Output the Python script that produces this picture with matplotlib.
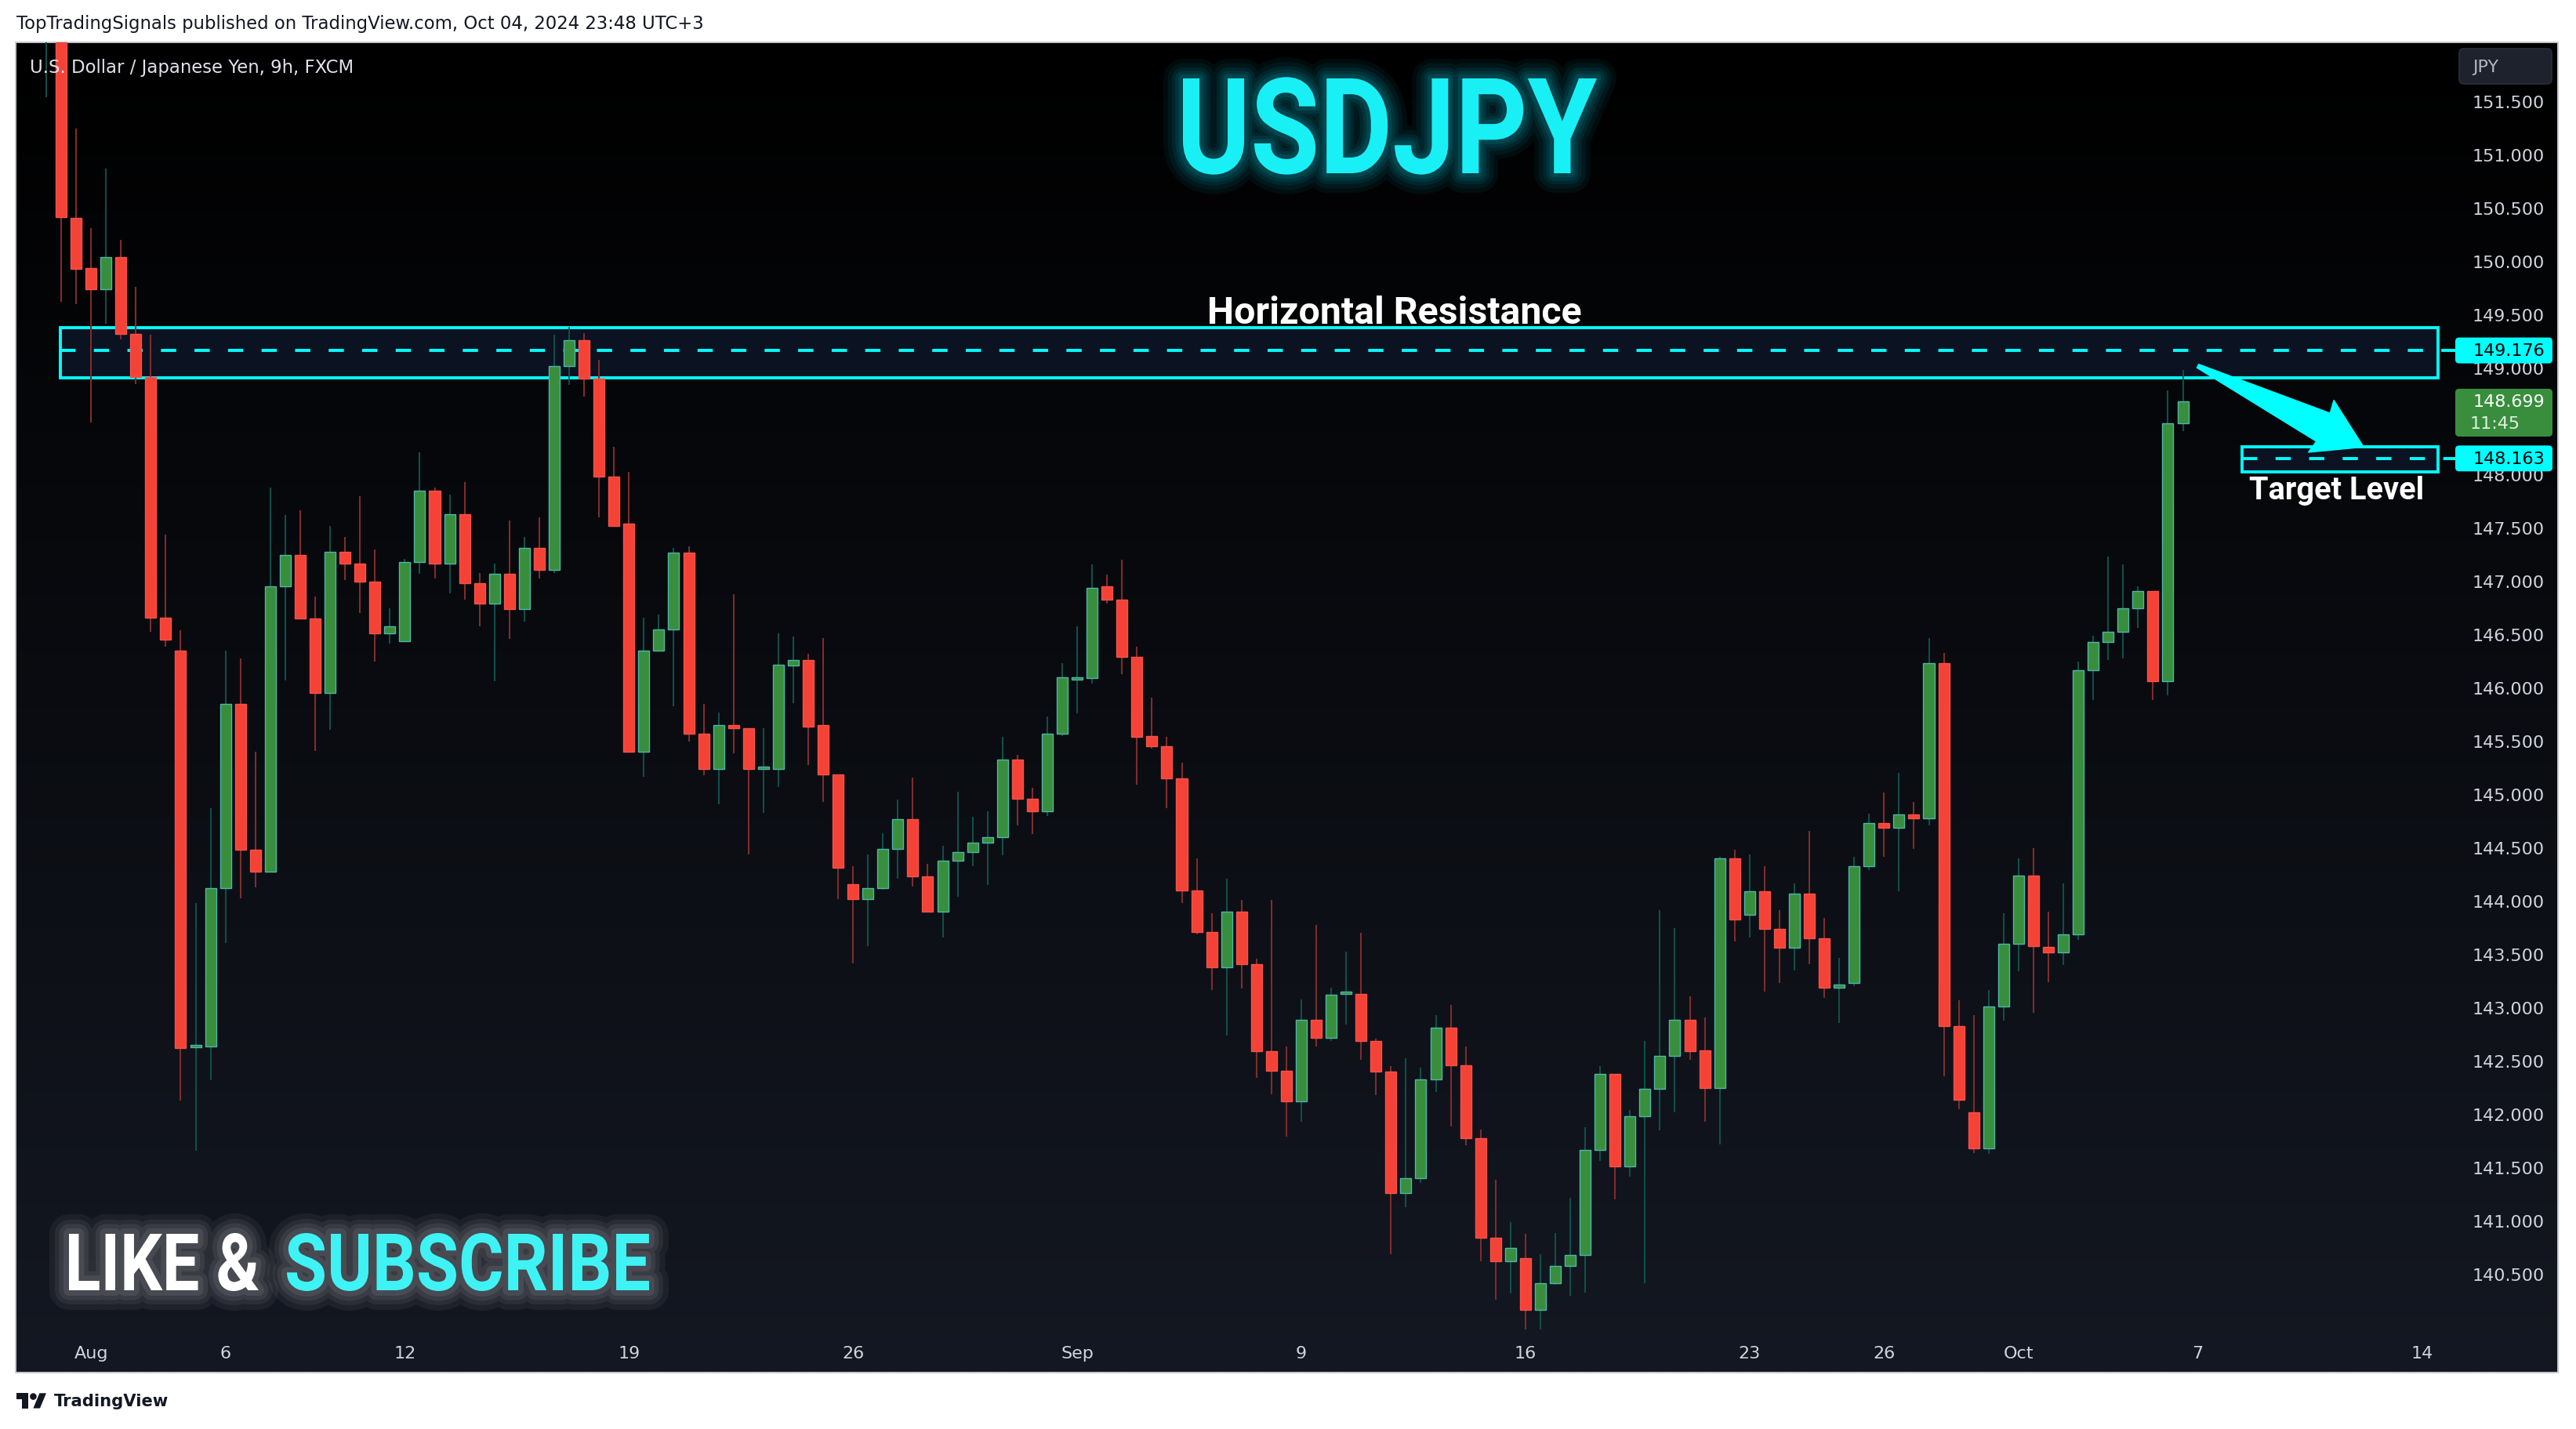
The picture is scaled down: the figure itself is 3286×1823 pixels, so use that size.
import matplotlib
matplotlib.use("Agg")
import matplotlib.pyplot as plt
import numpy as np
from matplotlib.patches import Rectangle, FancyBboxPatch, PathPatch, Polygon, Circle
from matplotlib.textpath import TextPath
from matplotlib.font_manager import FontProperties
from matplotlib.transforms import Affine2D, blended_transform_factory

# USDJPY 9h candles, first one sits at index -1
opens = [152.20, 152.45, 150.42, 149.95, 149.75, 150.05, 149.33, 148.93, 146.67, 146.36,
         142.64, 142.65, 144.13, 145.86, 144.49, 144.29, 146.96, 147.26, 146.66, 145.96,
         147.29, 147.18, 147.01, 146.52, 146.45, 147.19, 147.86, 147.18, 147.64, 146.99,
         146.80, 147.08, 146.75, 147.32, 147.12, 149.03, 149.27, 148.91, 147.99, 147.55,
         145.41, 146.36, 146.56, 147.28, 145.58, 145.25, 145.66, 145.63, 145.25, 145.25,
         146.22, 146.27, 145.66, 145.20, 144.17, 144.03, 144.13, 144.50, 144.78, 144.24,
         143.91, 144.39, 144.47, 144.56, 144.61, 145.34, 144.97, 144.85, 145.58, 146.09,
         146.10, 146.96, 146.84, 146.30, 145.56, 145.46, 145.16, 144.11, 143.72, 143.39,
         143.91, 143.42, 142.60, 142.42, 142.13, 142.90, 142.73, 143.14, 143.14, 142.70,
         142.41, 141.27, 141.41, 142.34, 142.82, 142.47, 141.79, 140.85, 140.63, 140.66,
         140.18, 140.43, 140.59, 140.69, 141.68, 142.39, 141.52, 141.99, 142.25, 142.56,
         142.90, 142.61, 142.26, 144.41, 143.88, 144.10, 143.75, 143.57, 144.08, 143.66,
         143.20, 143.24, 144.34, 144.74, 144.70, 144.82, 144.79, 146.24, 142.84, 142.03,
         141.69, 143.02, 143.61, 144.25, 143.58, 143.53, 143.70, 146.18, 146.44, 146.54,
         146.76, 146.92, 146.07, 148.49]
highs = [152.65, 152.55, 151.26, 150.32, 150.88, 150.21, 149.77, 149.32, 147.45, 146.55,
         143.99, 144.88, 146.36, 146.29, 145.41, 147.89, 147.63, 147.68, 146.87, 147.53,
         147.43, 147.81, 147.31, 146.76, 147.22, 148.22, 147.89, 147.82, 147.94, 147.09,
         147.18, 147.58, 147.43, 147.61, 149.32, 149.40, 149.34, 149.09, 148.27, 148.04,
         146.67, 146.70, 147.32, 147.34, 145.86, 145.78, 146.89, 145.63, 145.63, 146.52,
         146.49, 146.33, 146.48, 145.20, 144.34, 144.45, 144.65, 144.96, 145.17, 144.36,
         144.53, 145.04, 144.80, 144.85, 145.55, 145.38, 145.07, 145.74, 146.24, 146.59,
         147.17, 147.07, 147.21, 146.40, 145.92, 145.55, 145.31, 144.41, 143.90, 144.22,
         144.02, 143.47, 144.02, 142.65, 143.09, 143.79, 143.20, 143.54, 143.71, 142.72,
         142.46, 142.54, 142.45, 142.94, 143.04, 142.65, 141.87, 141.40, 141.00, 140.89,
         140.70, 140.90, 141.23, 141.89, 142.46, 142.39, 142.05, 142.70, 143.93, 143.76,
         143.12, 142.92, 144.43, 144.49, 144.45, 144.34, 143.93, 144.18, 144.67, 143.85,
         143.48, 144.43, 144.83, 145.03, 145.21, 144.94, 146.48, 146.34, 143.08, 142.94,
         143.18, 143.90, 144.41, 144.51, 143.91, 144.18, 146.26, 146.50, 147.24, 147.17,
         146.96, 146.92, 148.80, 148.99]
lows = [151.55, 149.63, 149.61, 148.50, 149.43, 149.28, 148.86, 146.54, 146.40, 142.14,
        141.67, 142.33, 143.62, 144.04, 144.14, 144.29, 146.08, 146.66, 145.42, 145.62,
        147.02, 146.71, 146.26, 146.43, 146.45, 147.08, 147.04, 146.90, 146.84, 146.59,
        146.07, 146.47, 146.63, 147.04, 147.09, 148.85, 148.74, 147.61, 147.53, 145.41,
        145.18, 146.35, 145.84, 145.51, 145.19, 144.92, 145.40, 144.45, 144.84, 145.08,
        145.87, 145.29, 144.94, 144.03, 143.43, 143.59, 144.12, 144.22, 144.15, 143.91,
        143.67, 144.05, 144.34, 144.16, 144.44, 144.72, 144.64, 144.81, 145.56, 145.77,
        146.05, 146.80, 146.14, 145.10, 145.44, 144.88, 143.99, 143.70, 143.18, 142.75,
        143.19, 142.35, 142.20, 141.80, 141.94, 142.65, 142.70, 142.85, 142.52, 142.19,
        140.70, 141.14, 141.37, 142.22, 141.90, 141.72, 140.63, 140.27, 140.33, 139.99,
        139.99, 140.41, 140.31, 140.34, 141.57, 141.21, 141.43, 140.43, 141.86, 142.03,
        142.52, 141.94, 141.73, 143.63, 143.67, 143.16, 143.24, 143.36, 143.42, 143.10,
        142.87, 143.21, 144.30, 144.43, 144.10, 144.50, 144.72, 142.37, 142.06, 141.65,
        141.64, 142.89, 143.35, 142.96, 143.25, 143.41, 143.65, 145.90, 146.27, 146.29,
        146.57, 145.90, 145.94, 148.42]
closes = [152.45, 150.43, 149.94, 149.75, 150.05, 149.33, 148.93, 146.67, 146.46, 142.63,
          142.65, 144.13, 145.86, 144.49, 144.29, 146.96, 147.26, 146.66, 145.96, 147.29,
          147.18, 147.01, 146.52, 146.59, 147.19, 147.86, 147.18, 147.64, 146.99, 146.80,
          147.08, 146.75, 147.32, 147.12, 149.03, 149.27, 148.91, 147.99, 147.53, 145.41,
          146.36, 146.56, 147.28, 145.58, 145.25, 145.66, 145.63, 145.25, 145.26, 146.23,
          146.27, 145.65, 145.20, 144.32, 144.03, 144.13, 144.50, 144.78, 144.24, 143.91,
          144.39, 144.47, 144.56, 144.61, 145.34, 144.97, 144.85, 145.58, 146.11, 146.11,
          146.95, 146.84, 146.30, 145.55, 145.46, 145.16, 144.11, 143.72, 143.39, 143.91,
          143.42, 142.60, 142.42, 142.13, 142.90, 142.73, 143.13, 143.15, 142.70, 142.41,
          141.27, 141.41, 142.34, 142.82, 142.47, 141.79, 140.85, 140.63, 140.76, 140.18,
          140.43, 140.59, 140.69, 141.68, 142.39, 141.52, 141.99, 142.25, 142.56, 142.90,
          142.60, 142.26, 144.41, 143.84, 144.10, 143.75, 143.57, 144.08, 143.66, 143.20,
          143.23, 144.34, 144.74, 144.70, 144.82, 144.79, 146.24, 142.84, 142.15, 141.69,
          143.02, 143.61, 144.25, 143.59, 143.53, 143.70, 146.18, 146.44, 146.54, 146.76,
          146.92, 146.07, 148.49, 148.70]

date_pos = [2, 11, 23, 38, 53, 68, 83, 98, 113, 122, 131, 143, 158]
date_lab = ["Aug", "6", "12", "19", "26", "Sep", "9", "16", "23", "26", "Oct", "7", "14"]
# 148.500 is hidden behind the last-price tag on the reference
price_ticks = [140.5, 141.0, 141.5, 142.0, 142.5, 143.0, 143.5, 144.0, 144.5, 145.0, 145.5,
               146.0, 146.5, 147.0, 147.5, 148.0, 149.0, 149.5, 150.0, 150.5, 151.0, 151.5]

res_level, res_lo, res_hi = 149.176, 148.92, 149.39
res_span = (-0.05, 159.07)
tgt_level, tgt_lo, tgt_hi = 148.163, 148.04, 148.27
tgt_span = (145.96, 159.07)
last_price, countdown = 148.699, "11:45"
arrow_from = (143.0, 149.03)
arrow_to = (154.1, 148.27)

W, H, DPI = 3286, 1824, 200
L, R, T, B = 20, 3263, 55, 1752      # chart panel in pixels
STEP, X0 = 19.06, 78                 # candle spacing, x of candle 0
PY, PP = 136.0, 132                  # px per yen, y of 151.5

ui = "DejaVu Sans"
bold = FontProperties(family="Roboto", weight="bold")

fig = plt.figure(figsize=(W / DPI, H / DPI), dpi=DPI, facecolor="white")


def px_axes(z):
    a = fig.add_axes([0, 0, 1, 1], zorder=z)
    a.axis("off")
    return a


canvas = px_axes(0)
top = np.array([0, 0, 0]) / 255
bot = np.array([20, 24, 34]) / 255
g = np.linspace(0, 1, 400)[:, None, None]
canvas.imshow(top + (bot - top) * g, extent=[L, R, B, T], aspect="auto", interpolation="bilinear")
canvas.add_patch(Rectangle((L, T), R - L, B - T, fill=False, ec="#c5c8cf", lw=0.7))
canvas.set_xlim(0, W)
canvas.set_ylim(H, 0)

ax = fig.add_axes([L / W, 1 - B / H, (R - L) / W, (B - T) / H], zorder=1)
ax.axis("off")
ax.set_xlim((L - X0) / STEP, (R - X0) / STEP)
ax.set_ylim(151.5 - (B - PP) / PY, 151.5 + (PP - T) / PY)

over = px_axes(2)
over.set_xlim(0, W)
over.set_ylim(H, 0)

# candles
o, h, l, c = map(np.array, (opens, highs, lows, closes))
x = np.arange(len(o)) - 1
up = c >= o
wick = ["#0f4f49" if u else "#7f2c2c" for u in up]
face = ["#388e3c" if u else "#f44336" for u in up]
edge = ["#4db6ac" if u else "#f5524a" for u in up]
ax.vlines(x, l, h, colors=wick, lw=0.75, zorder=3)
ax.bar(x, np.maximum(np.abs(c - o), 0.022), bottom=np.minimum(o, c), width=0.735,
       color=face, edgecolor=edge, linewidth=0.5, zorder=4)

# resistance and target zones
lab_x = (3132 - X0) / STEP
for (x0, x1), lo, hi, lev in [(res_span, res_lo, res_hi, res_level),
                              (tgt_span, tgt_lo, tgt_hi, tgt_level)]:
    ax.add_patch(Rectangle((x0, lo), x1 - x0, hi - lo, fc="#0b1221", ec="none", zorder=1))
    ax.add_patch(Rectangle((x0, lo), x1 - x0, hi - lo, fill=False, ec="#00ffff", lw=1.4, zorder=2))
    ax.plot([x0, lab_x], [lev, lev], color="#00ffff", lw=1.4, dashes=(5, 6), zorder=2.5, clip_on=False)

t1 = ax.text(89.25, 149.434, "Horizontal Resistance", ha="center", va="baseline", color="white",
             fontproperties=bold, zorder=8)
t1.set_fontsize(17.4)
t2 = ax.text(152.31, 147.787, "Target Level", ha="center", va="baseline", color="white",
             fontproperties=bold, zorder=8)
t2.set_fontsize(14.3)

# arrow from resistance to target
to_px = ax.transData + over.transData.inverted()
S = to_px.transform(arrow_from)
E = to_px.transform(arrow_to)
d = E - S
ln = np.hypot(*d)
u = d / ln
n = np.array([-u[1], u[0]])
shape = [(0, -2.5), (178, -20), (175, -37), (ln, 0), (175, 37), (178, 20), (0, 2.5)]
over.add_patch(Polygon([S + a * u + p * n for a, p in shape], closed=True,
                       fc="#00ffff", ec="#00ffff", lw=0.5, zorder=5))

# price scale
lbl = blended_transform_factory(canvas.transData, ax.transData)
for p in price_ticks:
    ax.text(3246, p, f"{p:.3f}", transform=lbl, ha="right", va="center",
            color="#d1d4dc", fontsize=8, family=ui, zorder=6)


def ypx(p):
    return to_px.transform((0, p))[1]


for p, fc in [(res_level, "#00ffff"), (tgt_level, "#00ffff")]:
    y = ypx(p)
    over.add_patch(FancyBboxPatch((3132, y - 16.5), 124, 33, boxstyle="round,pad=0,rounding_size=5",
                                  fc=fc, ec="none", zorder=6))
    over.text(3246, y, f"{p:.3f}", ha="right", va="center", color="black", fontsize=8, family=ui, zorder=7)
y = ypx(last_price)
over.add_patch(FancyBboxPatch((3132, y - 16), 124, 61, boxstyle="round,pad=0,rounding_size=5",
                              fc="#388e3c", ec="none", zorder=6))
over.text(3246, y, f"{last_price:.3f}", ha="right", va="center", color="white", fontsize=8, family=ui, zorder=7)
over.text(3151, y + 28, countdown, ha="left", va="center", color="#e3efe3", fontsize=8, family=ui, zorder=7)

over.add_patch(FancyBboxPatch((3137, 63), 118, 45, boxstyle="round,pad=0,rounding_size=6",
                              fc="#1e222d", ec="#2a2e39", lw=0.6, zorder=6))
over.text(3154, 86, "JPY", ha="left", va="center", color="#b2b5be", fontsize=8, family=ui, zorder=7)

# time scale
tl = blended_transform_factory(ax.transData, canvas.transData)
for pos, lab in zip(date_pos, date_lab):
    ax.text(pos, 1727, lab, transform=tl, ha="center", va="center", color="#d1d4dc",
            fontsize=8, family=ui, zorder=6)

# header / footer
over.text(21, 30, "TopTradingSignals published on TradingView.com, Oct 04, 2024 23:48 UTC+3",
          ha="left", va="center", color="#131722", fontsize=8.2, family=ui)
over.text(38, 86, "U.S. Dollar / Japanese Yen, 9h, FXCM", ha="left", va="center",
          color="#e0e3eb", fontsize=8.2, family=ui, zorder=7)

logo_tr = Affine2D().scale(1.07).translate(21, 1774) + over.transData
for pt in [Polygon([(14, 22), (7, 22), (7, 11), (0, 11), (0, 4), (14, 4)]),
           Polygon([(28, 22), (20, 22), (27.5, 4), (35.5, 4)]),
           Circle((20, 8), 4)]:
    pt.set_facecolor("#131722")
    pt.set_edgecolor("none")
    pt.set_transform(logo_tr)
    over.add_patch(pt)
over.text(69, 1788, "TradingView", ha="left", va="center", color="#131722",
          fontsize=7.6, family=ui, weight="bold")


def glow_text(s, x0, x1, ytop, ybase, color, glow, layers):
    tp = TextPath((0, 0), s, size=100, prop=bold)
    ext = tp.get_extents()
    cap = TextPath((0, 0), "H", size=100, prop=bold).get_extents().height
    tr = Affine2D().translate(-ext.x0, 0).scale((x1 - x0) / ext.width, -(ybase - ytop) / cap)
    path = tr.translate(x0, ybase).transform_path(tp)
    for lw, a in layers:
        over.add_patch(PathPatch(path, fc="none", ec=glow, lw=lw, alpha=a,
                                 joinstyle="round", zorder=8))
    over.add_patch(PathPatch(path, fc=color, ec="none", zorder=9))


cyan_glow = [(18, 0.05), (14, 0.06), (10, 0.07), (7, 0.08), (4, 0.10)]
white_glow = [(18, 0.05), (13, 0.06), (9, 0.07), (5, 0.08)]
glow_text("USDJPY", 1509, 2037, 101, 222, "#19f0f5", "#00e5ff", cyan_glow)
glow_text("LIKE &", 88, 330, 1575, 1647, "#ffffff", "#ffffff", white_glow)
glow_text("SUBSCRIBE", 366, 828, 1575, 1647, "#3ff3f5", "#ffffff", white_glow)

fig.savefig("out.png", dpi=DPI, facecolor="white")
